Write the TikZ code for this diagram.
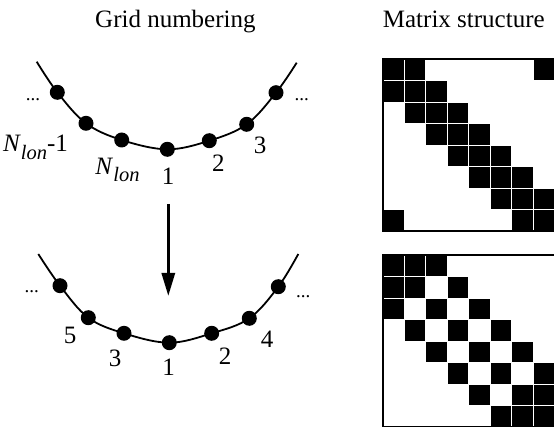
\documentclass[tikz,border=0pt]{standalone}
\usepackage{fontspec}
\setmainfont{Liberation Serif}
\usetikzlibrary{arrows.meta}

\newcommand{\Nlon}{\textit{N}\raisebox{-7.5pt}{\fontsize{20.5}{20.5}\selectfont\itshape lon}}

\begin{document}
\begin{tikzpicture}[x=1pt, y=-1pt,
    dot/.style={circle, fill=black, inner sep=0pt, minimum size=15pt},
    lbl/.style={anchor=base, inner sep=0pt, font=\fontsize{25}{25}\selectfont},
    etc/.style={anchor=base, inner sep=0pt, font=\fontsize{19}{19}\selectfont},
    title/.style={anchor=base west, inner sep=0pt, font=\fontsize{25}{28}\selectfont},
    curve/.style={line width=1.8pt},
    box/.style={line width=1.8pt}]

    \clip (0,0) rectangle (554,427);

    % titles
    \node[title] (tgrid) at (95,28) {Grid numbering};
    \node[title] (tmat) at (382.7,28) {Matrix structure};

    % original numbering
    \coordinate (tl) at (36.7,61.7);
    \coordinate (tr) at (296.7,62.7);
    \foreach \n/\x/\y in {1/57.3/92.3, 2/86/123.3, 3/121.7/140, 4/167.3/149.3,
                          5/209.3/140.7, 6/246.7/124.3, 7/276/92.7}
        \node[dot] (t\n) at (\x,\y) {};
    \draw[curve] plot[smooth, tension=0.6] coordinates {(tl) (t1) (t2) (t3) (t4) (t5) (t6) (t7) (tr)};
    \node[etc] (tdl) at (33,101) {...};
    \node[etc] (tdr) at (301.7,101) {...};
    \node[lbl] (ta) at (35.5,151.7) {\Nlon-1};
    \node[lbl] (tb) at (117.5,174.3) {\Nlon};
    \node[lbl] (tc) at (168,185) {1};
    \node[lbl] (td) at (218.3,171.7) {2};
    \node[lbl] (te) at (260,153.3) {3};

    % renumbering
    \node[inner sep=0pt] (atop) at (168.3,204) {};
    \node[inner sep=0pt] (abot) at (168.3,295) {};
    \draw[line width=3pt, -{Triangle[length=23pt, width=13pt]}, shorten >=-1pt] (atop.center) -- (abot.center);

    % alternating numbering
    \coordinate (bl) at (38.3,254);
    \coordinate (br) at (298.3,254);
    \foreach \n/\x/\y in {1/60/285.7, 2/88.3/317.7, 3/124/333.3, 4/169.3/342.7,
                          5/211.7/333.3, 6/249.3/318.3, 7/278.3/286.7}
        \node[dot] (b\n) at (\x,\y) {};
    \draw[curve] plot[smooth, tension=0.6] coordinates {(bl) (b1) (b2) (b3) (b4) (b5) (b6) (b7) (br)};
    \node[etc] (bdl) at (31.7,292.7) {...};
    \node[etc] (bdr) at (303.3,297.7) {...};
    \node[lbl] (ba) at (70,343.3) {5};
    \node[lbl] (bb) at (115,366.7) {3};
    \node[lbl] (bc) at (168.5,376) {1};
    \node[lbl] (bd) at (225,365) {2};
    \node[lbl] (be) at (267,347.3) {4};

    % matrix, periodic tridiagonal
    \begin{scope}[shift={(382.7,59.3)}]
        \foreach \r/\cols in {0/{0,1,7}, 1/{0,1,2}, 2/{1,2,3}, 3/{2,3,4},
                              4/{3,4,5}, 5/{4,5,6}, 6/{5,6,7}, 7/{0,6,7}}
            \foreach \c in \cols
                \fill (\c*21.5+0.6, \r*21.5+0.6) rectangle ++(20.3,20.3);
        \draw[box] (0,0) rectangle (172,172);
    \end{scope}

    % matrix, after renumbering
    \begin{scope}[shift={(382.7,255.3)}]
        \foreach \r/\cols in {0/{0,1,2}, 1/{0,1,3}, 2/{0,2,4}, 3/{1,3,5},
                              4/{2,4,6}, 5/{3,5,7}, 6/{4,6,7}, 7/{5,6,7}}
            \foreach \c in \cols
                \fill (\c*21.5+0.6, \r*21.5+0.6) rectangle ++(20.3,20.3);
        \draw[box] (0,0) rectangle (172,172);
    \end{scope}

\end{tikzpicture}
\end{document}
